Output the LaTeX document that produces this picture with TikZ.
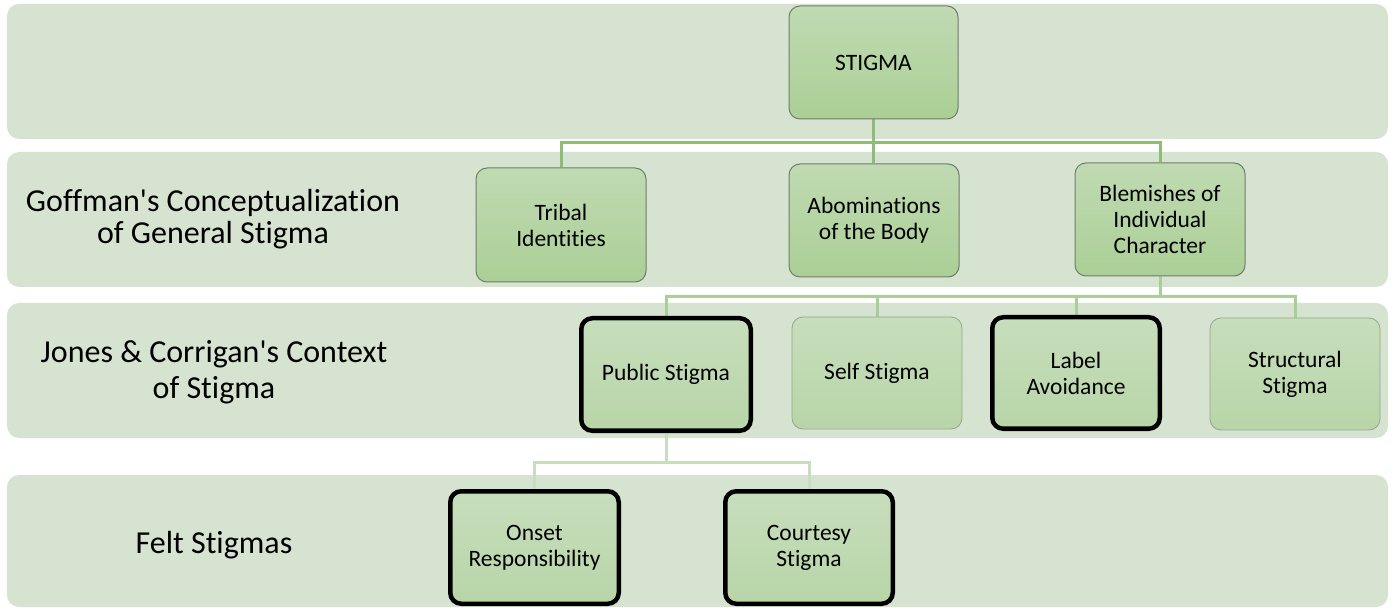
\documentclass[tikz,border=0pt]{standalone}
\usepackage{fontspec}
\setmainfont{Carlito}[Ligatures=NoCommon]
\definecolor{bandc}{RGB}{214,227,208}
\definecolor{boxtop}{RGB}{192,218,178}
\definecolor{boxbot}{RGB}{171,207,150}
\definecolor{lboxtop}{RGB}{199,222,188}
\definecolor{lboxbot}{RGB}{184,213,168}
\definecolor{edgec}{RGB}{110,125,105}
\definecolor{ledgec}{RGB}{150,165,145}
\definecolor{connA}{RGB}{141,190,120}
\definecolor{connB}{RGB}{168,207,150}
\definecolor{connC}{RGB}{200,222,190}
\pgfdeclarelayer{bandlayer}
\pgfdeclarelayer{connlayer}
\pgfsetlayers{bandlayer,connlayer,main}
\tikzset{
  band/.style={fill=bandc, draw=none, rounded corners=12pt},
  boxbase/.style={rounded corners=11pt, align=center, inner sep=0pt,
    font=\fontsize{23.5}{26}\selectfont, text=black},
  darkbox/.style={boxbase, draw=edgec, line width=1pt, top color=boxtop, bottom color=boxbot},
  lightbox/.style={boxbase, draw=ledgec, line width=0.8pt, top color=lboxtop, bottom color=lboxbot},
  thickbox/.style={boxbase, draw=black, line width=4.5pt, top color=lboxtop, bottom color=lboxbot},
  rowlabel/.style={align=center, inner sep=0pt, text=black},
  connA/.style={draw=connA, line width=3pt},
  connB/.style={draw=connB, line width=3pt},
  connC/.style={draw=connC, line width=3pt},
}
\begin{document}
\begin{tikzpicture}[x=1pt, y=-1pt]
\useasboundingbox (0,0) rectangle (1395,609);
% bands
\begin{pgfonlayer}{bandlayer}
\fill[band] (7,4) rectangle (1388,139);
\fill[band] (7,152) rectangle (1388,287);
\fill[band] (7,303) rectangle (1388,438);
\fill[band] (7,475) rectangle (1388,607);
\end{pgfonlayer}
% row labels
\node[rowlabel, font=\fontsize{32}{32}\selectfont] (lab2) at (213,219) {Goffman\textquotesingle s Conceptualization\\of General Stigma};
\node[rowlabel, font=\fontsize{32}{35.5}\selectfont] (lab3) at (214,372) {Jones \& Corrigan\textquotesingle s Context\\of Stigma};
\node[rowlabel, font=\fontsize{32}{32}\selectfont] (lab4) at (214,545) {Felt Stigmas};
% boxes
\node[darkbox, minimum width=169pt, minimum height=113pt] (stigma) at (873.5,62.5) {STIGMA};
\node[darkbox, minimum width=170pt, minimum height=114pt] (tribal) at (561,225) {Tribal\\Identities};
\node[darkbox, minimum width=170pt, minimum height=113pt] (abom) at (874,220.5) {Abominations\\of the Body};
\node[darkbox, minimum width=170pt, minimum height=113pt] (blem) at (1160,219.5) {Blemishes of\\Individual\\Character};
\node[thickbox, minimum width=169.5pt, minimum height=112.5pt] (public) at (666,374.5) {Public Stigma};
\node[lightbox, minimum width=170pt, minimum height=112pt] (self) at (877,373) {Self Stigma};
\node[thickbox, minimum width=167.5pt, minimum height=111.5pt] (label) at (1076,373) {Label\\Avoidance};
\node[lightbox, minimum width=170pt, minimum height=112pt] (struct) at (1295,374) {Structural\\Stigma};
\node[thickbox, minimum width=168.5pt, minimum height=112.5pt] (onset) at (534.5,547.5) {Onset\\Responsibility};
\node[thickbox, minimum width=167.5pt, minimum height=112.5pt] (court) at (809,547.5) {Courtesy\\Stigma};
% junction coordinates
\coordinate (j1) at (873.5,143);
\coordinate (j2) at (1160,297);
\coordinate (j3) at (666,462);
% connectors
\begin{pgfonlayer}{connlayer}
\draw[connA] (stigma.south) -- (j1);
\draw[connA] (j1) -| (tribal.north);
\draw[connA] (j1) -| (blem.north);
\draw[connA] (j1) -- (j1 |- abom.north);
\draw[connB] (blem.south) -- (j2);
\draw[connB] (j2) -| (public.north);
\draw[connB] (j2) -| (struct.north);
\draw[connB] (self.north |- j2) -- (self.north);
\draw[connB] (label.north |- j2) -- (label.north);
\draw[connC] (public.south) -- (j3);
\draw[connC] (j3) -| (onset.north);
\draw[connC] (j3) -| (court.north);
\end{pgfonlayer}
\end{tikzpicture}
\end{document}
